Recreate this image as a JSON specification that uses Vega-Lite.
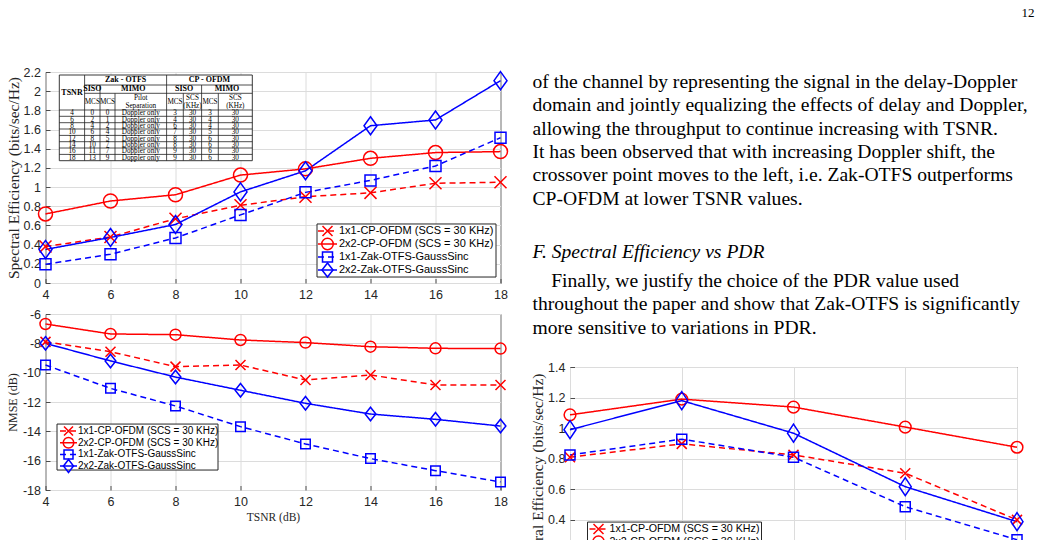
{
"$schema":"https://vega.github.io/schema/vega-lite/v6.json",
"background":"white",
"padding":{"left":5.5,"top":4,"right":0,"bottom":0},
"config":{
 "font":"Liberation Sans",
 "view":{"stroke":"#262626","strokeWidth":1},
 "axis":{"grid":true,"gridColor":"#dcdcdc","gridWidth":1,"domain":false,"ticks":true,"tickSize":-4.5,"tickColor":"#262626","tickWidth":0.8,"labelFont":"Liberation Sans","labelFontSize":12.5,"labelColor":"#262626","labelPadding":9.5,"labelOverlap":false,"labelFlush":false,"titleFont":"Liberation Serif","titleFontWeight":"normal","titleColor":"#262626"}
},
"datasets":{
 "se":[
  {"s":"1x1-CP-OFDM","t":4,"v":0.38},{"s":"1x1-CP-OFDM","t":6,"v":0.48},{"s":"1x1-CP-OFDM","t":8,"v":0.67},{"s":"1x1-CP-OFDM","t":10,"v":0.81},{"s":"1x1-CP-OFDM","t":12,"v":0.90},{"s":"1x1-CP-OFDM","t":14,"v":0.94},{"s":"1x1-CP-OFDM","t":16,"v":1.04},{"s":"1x1-CP-OFDM","t":18,"v":1.05},
  {"s":"2x2-CP-OFDM","t":4,"v":0.72},{"s":"2x2-CP-OFDM","t":6,"v":0.855},{"s":"2x2-CP-OFDM","t":8,"v":0.92},{"s":"2x2-CP-OFDM","t":10,"v":1.125},{"s":"2x2-CP-OFDM","t":12,"v":1.19},{"s":"2x2-CP-OFDM","t":14,"v":1.30},{"s":"2x2-CP-OFDM","t":16,"v":1.36},{"s":"2x2-CP-OFDM","t":18,"v":1.37},
  {"s":"1x1-Zak-OTFS","t":4,"v":0.195},{"s":"1x1-Zak-OTFS","t":6,"v":0.30},{"s":"1x1-Zak-OTFS","t":8,"v":0.47},{"s":"1x1-Zak-OTFS","t":10,"v":0.71},{"s":"1x1-Zak-OTFS","t":12,"v":0.945},{"s":"1x1-Zak-OTFS","t":14,"v":1.07},{"s":"1x1-Zak-OTFS","t":16,"v":1.22},{"s":"1x1-Zak-OTFS","t":18,"v":1.515},
  {"s":"2x2-Zak-OTFS","t":4,"v":0.35},{"s":"2x2-Zak-OTFS","t":6,"v":0.475},{"s":"2x2-Zak-OTFS","t":8,"v":0.61},{"s":"2x2-Zak-OTFS","t":10,"v":0.95},{"s":"2x2-Zak-OTFS","t":12,"v":1.17},{"s":"2x2-Zak-OTFS","t":14,"v":1.64},{"s":"2x2-Zak-OTFS","t":16,"v":1.70},{"s":"2x2-Zak-OTFS","t":18,"v":2.11}
 ],
 "nmse":[
  {"s":"1x1-CP-OFDM","t":4,"v":-7.9},{"s":"1x1-CP-OFDM","t":6,"v":-8.57},{"s":"1x1-CP-OFDM","t":8,"v":-9.59},{"s":"1x1-CP-OFDM","t":10,"v":-9.48},{"s":"1x1-CP-OFDM","t":12,"v":-10.5},{"s":"1x1-CP-OFDM","t":14,"v":-10.16},{"s":"1x1-CP-OFDM","t":16,"v":-10.84},{"s":"1x1-CP-OFDM","t":18,"v":-10.84},
  {"s":"2x2-CP-OFDM","t":4,"v":-6.68},{"s":"2x2-CP-OFDM","t":6,"v":-7.36},{"s":"2x2-CP-OFDM","t":8,"v":-7.41},{"s":"2x2-CP-OFDM","t":10,"v":-7.77},{"s":"2x2-CP-OFDM","t":12,"v":-7.95},{"s":"2x2-CP-OFDM","t":14,"v":-8.23},{"s":"2x2-CP-OFDM","t":16,"v":-8.34},{"s":"2x2-CP-OFDM","t":18,"v":-8.36},
  {"s":"1x1-Zak-OTFS","t":4,"v":-9.48},{"s":"1x1-Zak-OTFS","t":6,"v":-11.07},{"s":"1x1-Zak-OTFS","t":8,"v":-12.27},{"s":"1x1-Zak-OTFS","t":10,"v":-13.68},{"s":"1x1-Zak-OTFS","t":12,"v":-14.86},{"s":"1x1-Zak-OTFS","t":14,"v":-15.86},{"s":"1x1-Zak-OTFS","t":16,"v":-16.68},{"s":"1x1-Zak-OTFS","t":18,"v":-17.45},
  {"s":"2x2-Zak-OTFS","t":4,"v":-8.0},{"s":"2x2-Zak-OTFS","t":6,"v":-9.2},{"s":"2x2-Zak-OTFS","t":8,"v":-10.3},{"s":"2x2-Zak-OTFS","t":10,"v":-11.2},{"s":"2x2-Zak-OTFS","t":12,"v":-12.09},{"s":"2x2-Zak-OTFS","t":14,"v":-12.82},{"s":"2x2-Zak-OTFS","t":16,"v":-13.18},{"s":"2x2-Zak-OTFS","t":18,"v":-13.64}
 ],
 "pdr":[
  {"s":"1x1-CP-OFDM","p":1,"v":0.81},{"s":"1x1-CP-OFDM","p":2,"v":0.897},{"s":"1x1-CP-OFDM","p":3,"v":0.825},{"s":"1x1-CP-OFDM","p":4,"v":0.705},{"s":"1x1-CP-OFDM","p":5,"v":0.40},
  {"s":"2x2-CP-OFDM","p":1,"v":1.087},{"s":"2x2-CP-OFDM","p":2,"v":1.19},{"s":"2x2-CP-OFDM","p":3,"v":1.138},{"s":"2x2-CP-OFDM","p":4,"v":1.007},{"s":"2x2-CP-OFDM","p":5,"v":0.875},
  {"s":"1x1-Zak-OTFS","p":1,"v":0.825},{"s":"1x1-Zak-OTFS","p":2,"v":0.928},{"s":"1x1-Zak-OTFS","p":3,"v":0.81},{"s":"1x1-Zak-OTFS","p":4,"v":0.486},{"s":"1x1-Zak-OTFS","p":5,"v":0.27},
  {"s":"2x2-Zak-OTFS","p":1,"v":0.99},{"s":"2x2-Zak-OTFS","p":2,"v":1.18},{"s":"2x2-Zak-OTFS","p":3,"v":0.967},{"s":"2x2-Zak-OTFS","p":4,"v":0.617},{"s":"2x2-Zak-OTFS","p":5,"v":0.388}
 ],
 "legend":[
  {"slot":0,"s":"1x1-CP-OFDM","label":"1x1-CP-OFDM (SCS = 30 KHz)"},
  {"slot":1,"s":"2x2-CP-OFDM","label":"2x2-CP-OFDM (SCS = 30 KHz)"},
  {"slot":2,"s":"1x1-Zak-OTFS","label":"1x1-Zak-OTFS-GaussSinc"},
  {"slot":3,"s":"2x2-Zak-OTFS","label":"2x2-Zak-OTFS-GaussSinc"}
 ],
 "box":[{"b":1}],
 "tcols":[{"k":"tsnr","c":12.7},{"k":"zs","c":33},{"k":"zm","c":48.2},{"k":"ps","c":81.5},{"k":"cs","c":115.7},{"k":"cscs","c":133.2},{"k":"cm","c":150.7},{"k":"cmscs","c":176}],
 "trows":[
  {"r":38.2,"tsnr":"4","zs":"0","zm":"0","ps":"Doppler only","cs":"3","cscs":"30","cm":"3","cmscs":"30"},
  {"r":44.5,"tsnr":"6","zs":"2","zm":"1","ps":"Doppler only","cs":"4","cscs":"30","cm":"4","cmscs":"30"},
  {"r":50.9,"tsnr":"8","zs":"4","zm":"2","ps":"Doppler only","cs":"6","cscs":"30","cm":"4","cmscs":"30"},
  {"r":57.2,"tsnr":"10","zs":"6","zm":"4","ps":"Doppler only","cs":"7","cscs":"30","cm":"5","cmscs":"30"},
  {"r":63.5,"tsnr":"12","zs":"8","zm":"5","ps":"Doppler only","cs":"8","cscs":"30","cm":"6","cmscs":"30"},
  {"r":69.9,"tsnr":"14","zs":"10","zm":"7","ps":"Doppler only","cs":"8","cscs":"30","cm":"6","cmscs":"30"},
  {"r":76.2,"tsnr":"16","zs":"11","zm":"7","ps":"Doppler only","cs":"9","cscs":"30","cm":"6","cmscs":"30"},
  {"r":82.6,"tsnr":"18","zs":"13","zm":"9","ps":"Doppler only","cs":"9","cscs":"30","cm":"6","cmscs":"30"}
 ],
 "thead":[
  {"w":1,"c":66.3,"r":5,"t":"Zak - OTFS"},{"w":1,"c":150.2,"r":5,"t":"CP - OFDM"},
  {"w":1,"c":33,"r":14.2,"t":"SISO"},{"w":1,"c":74,"r":14.2,"t":"MIMO"},{"w":1,"c":124.8,"r":14.2,"t":"SISO"},{"w":1,"c":167.7,"r":14.2,"t":"MIMO"},
  {"w":1,"c":12.7,"r":17.5,"t":"TSNR"},
  {"w":0,"c":33,"r":26.7,"t":"MCS"},{"w":0,"c":48.2,"r":26.7,"t":"MCS"},{"w":0,"c":81.5,"r":23,"t":"Pilot"},{"w":0,"c":81.5,"r":31,"t":"Separation"},
  {"w":0,"c":115.7,"r":26.7,"t":"MCS"},{"w":0,"c":133.2,"r":23,"t":"SCS"},{"w":0,"c":133.2,"r":31,"t":"(KHz)"},
  {"w":0,"c":150.7,"r":26.7,"t":"MCS"},{"w":0,"c":176,"r":23,"t":"SCS"},{"w":0,"c":176,"r":31,"t":"(KHz)"}
 ],
 "tlines":[
  {"x1":25.3,"x2":25.3,"y1":0,"y2":85.7},{"x1":40.7,"x2":40.7,"y1":10,"y2":85.7},{"x1":55.7,"x2":55.7,"y1":18.3,"y2":85.7},
  {"x1":107.3,"x2":107.3,"y1":0,"y2":85.7},{"x1":124,"x2":124,"y1":18.3,"y2":85.7},{"x1":142.3,"x2":142.3,"y1":10,"y2":85.7},{"x1":159,"x2":159,"y1":18.3,"y2":85.7},
  {"x1":25.3,"x2":193,"y1":10,"y2":10},{"x1":25.3,"x2":193,"y1":18.3,"y2":18.3},{"x1":0,"x2":193,"y1":35,"y2":35},
  {"x1":0,"x2":193,"y1":41.3,"y2":41.3},{"x1":0,"x2":193,"y1":47.7,"y2":47.7},{"x1":0,"x2":193,"y1":54.0,"y2":54.0},{"x1":0,"x2":193,"y1":60.4,"y2":60.4},
  {"x1":0,"x2":193,"y1":66.7,"y2":66.7},{"x1":0,"x2":193,"y1":73.0,"y2":73.0},{"x1":0,"x2":193,"y1":79.4,"y2":79.4}
 ],
 "text":[
  {"k":"n","x":502,"ln":-2.94,"t":"12"},
  {"k":"p","x":0,"ln":0,"t":"of the channel by representing the signal in the delay-Doppler"},
  {"k":"p","x":0,"ln":1,"t":"domain and jointly equalizing the effects of delay and Doppler,"},
  {"k":"p","x":0,"ln":2,"t":"allowing the throughput to continue increasing with TSNR."},
  {"k":"p","x":0,"ln":3,"t":"It has been observed that with increasing Doppler shift, the"},
  {"k":"p","x":0,"ln":4,"t":"crossover point moves to the left, i.e. Zak-OTFS outperforms"},
  {"k":"p","x":0,"ln":5,"t":"CP-OFDM at lower TSNR values."},
  {"k":"h","x":0,"ln":7.26,"t":"F. Spectral Efficiency vs PDR"},
  {"k":"p","x":18.7,"ln":8.52,"t":"Finally, we justify the choice of the PDR value used"},
  {"k":"p","x":0,"ln":9.52,"t":"throughout the paper and show that Zak-OTFS is significantly"},
  {"k":"p","x":0,"ln":10.52,"t":"more sensitive to variations in PDR."}
 ]
},
"spacing":18.5,
"resolve":{"scale":{"shape":"independent","color":"independent","strokeDash":"independent"}},
"hconcat":[
 {"bounds":"flush","spacing":31,
  "resolve":{"scale":{"shape":"independent","color":"independent","strokeDash":"independent"}},
  "vconcat":[
   {"width":455,"height":37,"view":{"stroke":null},"data":{"values":[]},"mark":{"type":"point"}},
   {"width":455,"height":211,
    "resolve":{"scale":{"x":"independent","y":"independent","shape":"independent"}},
    "layer":[
     {"data":{"name":"se"},
      "encoding":{
       "x":{"field":"t","type":"quantitative","scale":{"domain":[4,18],"nice":false,"zero":false},"axis":{"values":[4,6,8,10,12,14,16,18],"title":null}},
       "y":{"field":"v","type":"quantitative","scale":{"domain":[0,2.2],"nice":false,"zero":false},"axis":{"values":[0,0.2,0.4,0.6,0.8,1,1.2,1.4,1.6,1.8,2,2.2],"format":"~g","title":"Spectral Efficiency (bits/sec/Hz)","titleFontSize":15.5,"titlePadding":2}},
       "color":{"field":"s","type":"nominal","scale":{"domain":["1x1-CP-OFDM","2x2-CP-OFDM","1x1-Zak-OTFS","2x2-Zak-OTFS"],"range":["#ff0000","#ff0000","#0000ff","#0000ff"]},"legend":null}
      },
      "layer":[
       {"mark":{"type":"line","strokeWidth":1.5},"encoding":{"strokeDash":{"field":"s","type":"nominal","scale":{"domain":["1x1-CP-OFDM","2x2-CP-OFDM","1x1-Zak-OTFS","2x2-Zak-OTFS"],"range":[[6,4],[1,0],[6,4],[1,0]]},"legend":null}}},
       {"mark":{"type":"point","filled":false,"strokeWidth":1.5,"size":324,"opacity":1},"encoding":{"shape":{"field":"s","type":"nominal","scale":{"domain":["1x1-CP-OFDM","2x2-CP-OFDM","1x1-Zak-OTFS","2x2-Zak-OTFS"],"range":["M-0.667,-0.667L0.667,0.667M-0.667,0.667L0.667,-0.667","M0.778,0A0.778,0.778,0,1,1,-0.778,0A0.778,0.778,0,1,1,0.778,0Z","M-0.611,-0.611H0.611V0.611H-0.611Z","M0,-1L0.722,0L0,1L-0.722,0Z"]},"legend":null}}}
      ]},
     {"layer":[
       {"data":{"name":"box"},"mark":{"type":"rect","fill":"white","stroke":"#222222","strokeWidth":0.9},
        "encoding":{"x":{"datum":0,"type":"quantitative","scale":{"domain":[-13.8,441.2],"nice":false,"zero":false},"axis":null},"x2":{"datum":193},"y":{"datum":0,"type":"quantitative","scale":{"domain":[-3,208],"reverse":true,"nice":false,"zero":false},"axis":null},"y2":{"datum":85.7}}},
       {"data":{"name":"tlines"},"mark":{"type":"rule","color":"#222222","strokeWidth":0.8},
        "encoding":{"x":{"field":"x1","type":"quantitative","scale":{"domain":[-13.8,441.2],"nice":false,"zero":false},"axis":null},"x2":{"field":"x2"},"y":{"field":"y1","type":"quantitative","scale":{"domain":[-3,208],"reverse":true,"nice":false,"zero":false},"axis":null},"y2":{"field":"y2"}}},
       {"data":{"name":"thead"},"transform":[{"filter":"datum.w == 1"}],"mark":{"type":"text","font":"Liberation Serif","fontSize":8,"fontWeight":"bold","align":"center","baseline":"middle","color":"black"},
        "encoding":{"x":{"field":"c","type":"quantitative","scale":{"domain":[-13.8,441.2],"nice":false,"zero":false},"axis":null},"y":{"field":"r","type":"quantitative","scale":{"domain":[-3,208],"reverse":true,"nice":false,"zero":false},"axis":null},"text":{"field":"t"}}},
       {"data":{"name":"thead"},"transform":[{"filter":"datum.w == 0"}],"mark":{"type":"text","font":"Liberation Serif","fontSize":7.2,"align":"center","baseline":"middle","color":"black"},
        "encoding":{"x":{"field":"c","type":"quantitative","scale":{"domain":[-13.8,441.2],"nice":false,"zero":false},"axis":null},"y":{"field":"r","type":"quantitative","scale":{"domain":[-3,208],"reverse":true,"nice":false,"zero":false},"axis":null},"text":{"field":"t"}}},
       {"data":{"name":"trows"},"transform":[{"fold":["tsnr","zs","zm","ps","cs","cscs","cm","cmscs"],"as":["key","value"]},{"lookup":"key","from":{"data":{"name":"tcols"},"key":"k","fields":["c"]}}],
        "mark":{"type":"text","font":"Liberation Serif","fontSize":7.2,"align":"center","baseline":"middle","color":"black"},
        "encoding":{"x":{"field":"c","type":"quantitative","scale":{"domain":[-13.8,441.2],"nice":false,"zero":false},"axis":null},"y":{"field":"r","type":"quantitative","scale":{"domain":[-3,208],"reverse":true,"nice":false,"zero":false},"axis":null},"text":{"field":"value"}}}
     ]},
     {"layer":[
       {"data":{"name":"box"},"mark":{"type":"rect","fill":"white","stroke":"#262626","strokeWidth":1},
        "encoding":{"x":{"datum":0,"type":"quantitative","scale":{"domain":[-271.5,183.5],"nice":false,"zero":false},"axis":null},"x2":{"datum":179},"y":{"datum":-0.54,"type":"quantitative","scale":{"domain":[-12.23,4.0],"reverse":true,"nice":false,"zero":false},"axis":null},"y2":{"datum":3.54}}},
       {"data":{"name":"legend"},"mark":{"type":"rule","strokeWidth":1.5},
        "encoding":{"x":{"datum":1,"type":"quantitative","scale":{"domain":[-271.5,183.5],"nice":false,"zero":false},"axis":null},"x2":{"datum":20},"y":{"field":"slot","type":"quantitative","scale":{"domain":[-12.23,4.0],"reverse":true,"nice":false,"zero":false},"axis":null},
         "color":{"field":"s","type":"nominal","scale":{"domain":["1x1-CP-OFDM","2x2-CP-OFDM","1x1-Zak-OTFS","2x2-Zak-OTFS"],"range":["#ff0000","#ff0000","#0000ff","#0000ff"]},"legend":null},
         "strokeDash":{"field":"s","type":"nominal","scale":{"domain":["1x1-CP-OFDM","2x2-CP-OFDM","1x1-Zak-OTFS","2x2-Zak-OTFS"],"range":[[6,4],[1,0],[6,4],[1,0]]},"legend":null}}},
       {"data":{"name":"legend"},"mark":{"type":"point","filled":false,"strokeWidth":1.5,"size":196,"opacity":1},
        "encoding":{"x":{"datum":10.5,"type":"quantitative","scale":{"domain":[-271.5,183.5],"nice":false,"zero":false},"axis":null},"y":{"field":"slot","type":"quantitative","scale":{"domain":[-12.23,4.0],"reverse":true,"nice":false,"zero":false},"axis":null},
         "color":{"field":"s","type":"nominal","scale":{"domain":["1x1-CP-OFDM","2x2-CP-OFDM","1x1-Zak-OTFS","2x2-Zak-OTFS"],"range":["#ff0000","#ff0000","#0000ff","#0000ff"]},"legend":null},
         "shape":{"field":"s","type":"nominal","scale":{"domain":["1x1-CP-OFDM","2x2-CP-OFDM","1x1-Zak-OTFS","2x2-Zak-OTFS"],"range":["M-0.714,-0.714L0.714,0.714M-0.714,0.714L0.714,-0.714","M0.821,0A0.821,0.821,0,1,1,-0.821,0A0.821,0.821,0,1,1,0.821,0Z","M-0.714,-0.714H0.714V0.714H-0.714Z","M0,-1L0.786,0L0,1L-0.786,0Z"]},"legend":null}}},
       {"data":{"name":"legend"},"mark":{"type":"text","align":"left","baseline":"middle","font":"Liberation Sans","fontSize":11,"color":"black"},
        "encoding":{"x":{"datum":22,"type":"quantitative","scale":{"domain":[-271.5,183.5],"nice":false,"zero":false},"axis":null},"y":{"field":"slot","type":"quantitative","scale":{"domain":[-12.23,4.0],"reverse":true,"nice":false,"zero":false},"axis":null},"text":{"field":"label"}}}
     ]}
    ]},
   {"width":455,"height":176,
    "resolve":{"scale":{"x":"independent","y":"independent","shape":"independent"}},
    "layer":[
     {"data":{"name":"nmse"},
      "encoding":{
       "x":{"field":"t","type":"quantitative","scale":{"domain":[4,18],"nice":false,"zero":false},"axis":{"values":[4,6,8,10,12,14,16,18],"title":"TSNR (dB)","titleFontSize":11.5,"titlePadding":4}},
       "y":{"field":"v","type":"quantitative","scale":{"domain":[-18,-6],"nice":false,"zero":false},"axis":{"values":[-18,-16,-14,-12,-10,-8,-6],"labelExpr":"replace(datum.label, '\u2212', '-')","title":"NMSE (dB)","titleFontSize":12,"titlePadding":3}},
       "color":{"field":"s","type":"nominal","scale":{"domain":["1x1-CP-OFDM","2x2-CP-OFDM","1x1-Zak-OTFS","2x2-Zak-OTFS"],"range":["#ff0000","#ff0000","#0000ff","#0000ff"]},"legend":null}
      },
      "layer":[
       {"mark":{"type":"line","strokeWidth":1.5},"encoding":{"strokeDash":{"field":"s","type":"nominal","scale":{"domain":["1x1-CP-OFDM","2x2-CP-OFDM","1x1-Zak-OTFS","2x2-Zak-OTFS"],"range":[[6,4],[1,0],[6,4],[1,0]]},"legend":null}}},
       {"mark":{"type":"point","filled":false,"strokeWidth":1.5,"size":182,"opacity":1},"encoding":{"shape":{"field":"s","type":"nominal","scale":{"domain":["1x1-CP-OFDM","2x2-CP-OFDM","1x1-Zak-OTFS","2x2-Zak-OTFS"],"range":["M-0.741,-0.741L0.741,0.741M-0.741,0.741L0.741,-0.741","M0.815,0A0.815,0.815,0,1,1,-0.815,0A0.815,0.815,0,1,1,0.815,0Z","M-0.704,-0.704H0.704V0.704H-0.704Z","M0,-1L0.793,0L0,1L-0.793,0Z"]},"legend":null}}}
      ]},
     {"layer":[
       {"data":{"name":"box"},"mark":{"type":"rect","fill":"white","stroke":"#262626","strokeWidth":1},
        "encoding":{"x":{"datum":0,"type":"quantitative","scale":{"domain":[-11.5,443.5],"nice":false,"zero":false},"axis":null},"x2":{"datum":161},"y":{"datum":-0.6,"type":"quantitative","scale":{"domain":[-10.03,5.05],"reverse":true,"nice":false,"zero":false},"axis":null},"y2":{"datum":3.34}}},
       {"data":{"name":"legend"},"mark":{"type":"rule","strokeWidth":1.5},
        "encoding":{"x":{"datum":3,"type":"quantitative","scale":{"domain":[-11.5,443.5],"nice":false,"zero":false},"axis":null},"x2":{"datum":20},"y":{"field":"slot","type":"quantitative","scale":{"domain":[-10.03,5.05],"reverse":true,"nice":false,"zero":false},"axis":null},
         "color":{"field":"s","type":"nominal","scale":{"domain":["1x1-CP-OFDM","2x2-CP-OFDM","1x1-Zak-OTFS","2x2-Zak-OTFS"],"range":["#ff0000","#ff0000","#0000ff","#0000ff"]},"legend":null},
         "strokeDash":{"field":"s","type":"nominal","scale":{"domain":["1x1-CP-OFDM","2x2-CP-OFDM","1x1-Zak-OTFS","2x2-Zak-OTFS"],"range":[[6,4],[1,0],[6,4],[1,0]]},"legend":null}}},
       {"data":{"name":"legend"},"mark":{"type":"point","filled":false,"strokeWidth":1.5,"size":169,"opacity":1},
        "encoding":{"x":{"datum":11.5,"type":"quantitative","scale":{"domain":[-11.5,443.5],"nice":false,"zero":false},"axis":null},"y":{"field":"slot","type":"quantitative","scale":{"domain":[-10.03,5.05],"reverse":true,"nice":false,"zero":false},"axis":null},
         "color":{"field":"s","type":"nominal","scale":{"domain":["1x1-CP-OFDM","2x2-CP-OFDM","1x1-Zak-OTFS","2x2-Zak-OTFS"],"range":["#ff0000","#ff0000","#0000ff","#0000ff"]},"legend":null},
         "shape":{"field":"s","type":"nominal","scale":{"domain":["1x1-CP-OFDM","2x2-CP-OFDM","1x1-Zak-OTFS","2x2-Zak-OTFS"],"range":["M-0.692,-0.692L0.692,0.692M-0.692,0.692L0.692,-0.692","M0.808,0A0.808,0.808,0,1,1,-0.808,0A0.808,0.808,0,1,1,0.808,0Z","M-0.692,-0.692H0.692V0.692H-0.692Z","M0,-1L0.769,0L0,1L-0.769,0Z"]},"legend":null}}},
       {"data":{"name":"legend"},"mark":{"type":"text","align":"left","baseline":"middle","font":"Liberation Sans","fontSize":10,"color":"black"},
        "encoding":{"x":{"datum":21,"type":"quantitative","scale":{"domain":[-11.5,443.5],"nice":false,"zero":false},"axis":null},"y":{"field":"slot","type":"quantitative","scale":{"domain":[-10.03,5.05],"reverse":true,"nice":false,"zero":false},"axis":null},"text":{"field":"label"}}}
     ]}
    ]}
  ]},
 {"bounds":"flush","spacing":15,
  "resolve":{"scale":{"shape":"independent","color":"independent","strokeDash":"independent"}},
  "vconcat":[
   {"width":465,"height":348,"view":{"stroke":null},
    "data":{"name":"text"},
    "layer":[
     {"transform":[{"filter":"datum.k == 'p'"}],"mark":{"type":"text","align":"left","baseline":"middle","font":"Liberation Serif","fontSize":19.6,"color":"black"},
      "encoding":{"x":{"field":"x","type":"quantitative","scale":{"domain":[37.5,502.5],"nice":false,"zero":false},"axis":null},"y":{"field":"ln","type":"quantitative","scale":{"domain":[-3.32,11.55],"reverse":true,"nice":false,"zero":false},"axis":null},"text":{"field":"t"}}},
     {"transform":[{"filter":"datum.k == 'h'"}],"mark":{"type":"text","align":"left","baseline":"middle","font":"Liberation Serif","fontSize":19.6,"fontStyle":"italic","color":"black"},
      "encoding":{"x":{"field":"x","type":"quantitative","scale":{"domain":[37.5,502.5],"nice":false,"zero":false},"axis":null},"y":{"field":"ln","type":"quantitative","scale":{"domain":[-3.32,11.55],"reverse":true,"nice":false,"zero":false},"axis":null},"text":{"field":"t"}}},
     {"transform":[{"filter":"datum.k == 'n'"}],"mark":{"type":"text","align":"right","baseline":"middle","font":"Liberation Serif","fontSize":13,"color":"black"},
      "encoding":{"x":{"field":"x","type":"quantitative","scale":{"domain":[37.5,502.5],"nice":false,"zero":false},"axis":null},"y":{"field":"ln","type":"quantitative","scale":{"domain":[-3.32,11.55],"reverse":true,"nice":false,"zero":false},"axis":null},"text":{"field":"t"}}}
    ]},
   {"width":447,"height":214,
    "resolve":{"scale":{"x":"independent","y":"independent","shape":"independent"}},
    "layer":[
     {"data":{"name":"pdr"},
      "encoding":{
       "x":{"field":"p","type":"quantitative","scale":{"domain":[1,5],"nice":false,"zero":false},"axis":{"values":[1,2,3,4,5],"labels":false,"title":null}},
       "y":{"field":"v","type":"quantitative","scale":{"domain":[0,1.4],"nice":false,"zero":false},"axis":{"values":[0,0.2,0.4,0.6,0.8,1,1.2,1.4],"format":"~g","title":"Spectral Efficiency (bits/sec/Hz)","titleFontSize":15.5,"titlePadding":2}},
       "color":{"field":"s","type":"nominal","scale":{"domain":["1x1-CP-OFDM","2x2-CP-OFDM","1x1-Zak-OTFS","2x2-Zak-OTFS"],"range":["#ff0000","#ff0000","#0000ff","#0000ff"]},"legend":null}
      },
      "layer":[
       {"mark":{"type":"line","strokeWidth":1.5},"encoding":{"strokeDash":{"field":"s","type":"nominal","scale":{"domain":["1x1-CP-OFDM","2x2-CP-OFDM","1x1-Zak-OTFS","2x2-Zak-OTFS"],"range":[[6,4],[1,0],[6,4],[1,0]]},"legend":null}}},
       {"mark":{"type":"point","filled":false,"strokeWidth":1.5,"size":324,"opacity":1},"encoding":{"shape":{"field":"s","type":"nominal","scale":{"domain":["1x1-CP-OFDM","2x2-CP-OFDM","1x1-Zak-OTFS","2x2-Zak-OTFS"],"range":["M-0.556,-0.556L0.556,0.556M-0.556,0.556L0.556,-0.556","M0.65,0A0.65,0.65,0,1,1,-0.65,0A0.65,0.65,0,1,1,0.65,0Z","M-0.556,-0.556H0.556V0.556H-0.556Z","M0,-1L0.667,0L0,1L-0.667,0Z"]},"legend":null}}}
      ]},
     {"layer":[
       {"data":{"name":"box"},"mark":{"type":"rect","fill":"white","stroke":"#262626","strokeWidth":1},
        "encoding":{"x":{"datum":0,"type":"quantitative","scale":{"domain":[-17.5,429.5],"nice":false,"zero":false},"axis":null},"x2":{"datum":174},"y":{"datum":-0.55,"type":"quantitative","scale":{"domain":[-12.76,4.09],"reverse":true,"nice":false,"zero":false},"axis":null},"y2":{"datum":3.55}}},
       {"data":{"name":"legend"},"mark":{"type":"rule","strokeWidth":1.5},
        "encoding":{"x":{"datum":2,"type":"quantitative","scale":{"domain":[-17.5,429.5],"nice":false,"zero":false},"axis":null},"x2":{"datum":20},"y":{"field":"slot","type":"quantitative","scale":{"domain":[-12.76,4.09],"reverse":true,"nice":false,"zero":false},"axis":null},
         "color":{"field":"s","type":"nominal","scale":{"domain":["1x1-CP-OFDM","2x2-CP-OFDM","1x1-Zak-OTFS","2x2-Zak-OTFS"],"range":["#ff0000","#ff0000","#0000ff","#0000ff"]},"legend":null},
         "strokeDash":{"field":"s","type":"nominal","scale":{"domain":["1x1-CP-OFDM","2x2-CP-OFDM","1x1-Zak-OTFS","2x2-Zak-OTFS"],"range":[[6,4],[1,0],[6,4],[1,0]]},"legend":null}}},
       {"data":{"name":"legend"},"mark":{"type":"point","filled":false,"strokeWidth":1.5,"size":196,"opacity":1},
        "encoding":{"x":{"datum":11,"type":"quantitative","scale":{"domain":[-17.5,429.5],"nice":false,"zero":false},"axis":null},"y":{"field":"slot","type":"quantitative","scale":{"domain":[-12.76,4.09],"reverse":true,"nice":false,"zero":false},"axis":null},
         "color":{"field":"s","type":"nominal","scale":{"domain":["1x1-CP-OFDM","2x2-CP-OFDM","1x1-Zak-OTFS","2x2-Zak-OTFS"],"range":["#ff0000","#ff0000","#0000ff","#0000ff"]},"legend":null},
         "shape":{"field":"s","type":"nominal","scale":{"domain":["1x1-CP-OFDM","2x2-CP-OFDM","1x1-Zak-OTFS","2x2-Zak-OTFS"],"range":["M-0.714,-0.714L0.714,0.714M-0.714,0.714L0.714,-0.714","M0.821,0A0.821,0.821,0,1,1,-0.821,0A0.821,0.821,0,1,1,0.821,0Z","M-0.714,-0.714H0.714V0.714H-0.714Z","M0,-1L0.786,0L0,1L-0.786,0Z"]},"legend":null}}},
       {"data":{"name":"legend"},"mark":{"type":"text","align":"left","baseline":"middle","font":"Liberation Sans","fontSize":10.7,"color":"black"},
        "encoding":{"x":{"datum":22,"type":"quantitative","scale":{"domain":[-17.5,429.5],"nice":false,"zero":false},"axis":null},"y":{"field":"slot","type":"quantitative","scale":{"domain":[-12.76,4.09],"reverse":true,"nice":false,"zero":false},"axis":null},"text":{"field":"label"}}}
     ]}
    ]}
  ]}
]
}
